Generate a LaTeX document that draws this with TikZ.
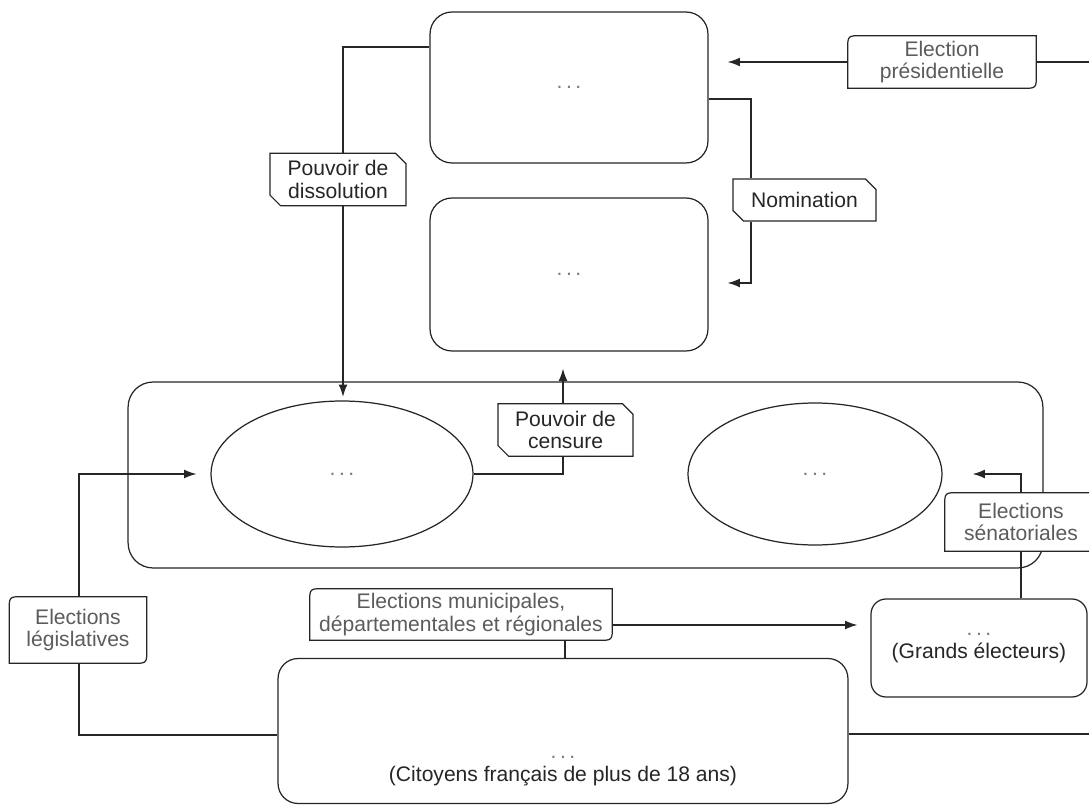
\documentclass[tikz,border=0pt]{standalone}
\usepackage{fontspec}
\setmainfont{Liberation Sans}
\usetikzlibrary{arrows.meta,shapes.geometric,shapes.misc}

\definecolor{linegray}{HTML}{262626}
\definecolor{textgray}{HTML}{5C5C5C}
\definecolor{dotgray}{HTML}{7A7A7A}

\newcommand{\emptytxt}{\textcolor{dotgray}{.\,.\,.}}

\tikzset{
	organ/.style	= {draw=linegray, line width=0.7pt, fill=white, rounded corners=#1},
	organ/.default	= 0.44cm,
	chamber/.style	= {ellipse, draw=linegray, line width=0.7pt, fill=white},
	power/.style	= {chamfered rectangle, chamfered rectangle corners={north east,south west},
			   chamfered rectangle sep=3pt, draw=linegray, line width=0.7pt, fill=white,
			   align=center, text=black!85, inner sep=1pt},
	elect/.style	= {align=center, text=textgray, inner sep=1pt,
			   append after command={\pgfextra{\let\elnode\tikzlastnode
				\filldraw[draw=linegray, fill=white, line width=0.7pt]
				([yshift=-8pt]\elnode.north west) .. controls (\elnode.north west) .. ([xshift=8pt]\elnode.north west)
				-- (\elnode.north east) -- ([yshift=8pt]\elnode.south east)
				.. controls (\elnode.south east) .. ([xshift=-8pt]\elnode.south east)
				-- (\elnode.south west) -- cycle;}}},
	conn/.style	= {draw=linegray, line width=0.7pt}
}

\begin{document}
\begin{tikzpicture}[x=0.02cm, y=-0.02cm, font=\fontsize{12}{13}\selectfont, >={Latex[length=7pt,width=5pt]}]
	\useasboundingbox (0,0) rectangle (1089,807);
	\clip (0,0) rectangle (1089,807);

	\node (pres)	at (569, 87.5)	[organ, minimum width=5.56cm, minimum height=3.02cm]	{\emptytxt};
	\node (gouv)	at (569, 274.5)	[organ, minimum width=5.56cm, minimum height=3.06cm]	{\emptytxt};
	\node (parl)	at (585.5, 475)	[organ=0.5cm, minimum width=18.3cm, minimum height=3.72cm]	{};
	\node (an)	at (342, 474)	[chamber, minimum width=5.24cm, minimum height=2.92cm]	{\emptytxt};
	\node (senat)	at (815, 474)	[chamber, minimum width=5.08cm, minimum height=2.84cm]	{\emptytxt};
	\node (citoyens) at (563, 731)	[organ=0.4cm, minimum width=11.4cm, minimum height=2.9cm,
		label={[align=center, text=black!85, yshift=-0.8cm]center:{\emptytxt\\(Citoyens français de plus de 18 ans)}}]	{};
	\node (ge)	at (979, 648)	[organ=0.3cm, minimum width=4.32cm, minimum height=1.96cm, align=center, text=black!85]	{\emptytxt\\(Grands électeurs)};

	\node (presid)	at (942, 62)	[elect, minimum width=3.76cm, minimum height=1.04cm]	{Election\\présidentielle};
	\node (dissol)	at (338, 179.5)	[power, minimum width=2.72cm, minimum height=0.98cm]	{Pouvoir de\\dissolution};
	\node (nomin)	at (804.5, 200)	[power, minimum width=2.86cm, minimum height=0.84cm]	{Nomination};
	\node (censure)	at (565.5, 430)	[power, minimum width=2.7cm, minimum height=1.0cm]	{Pouvoir de\\censure};
	\node (legis)	at (78, 630)	[elect, minimum width=2.74cm, minimum height=1.32cm]	{Elections\\législatives};
	\node (munic)	at (461, 614.5)	[elect, minimum width=6.04cm, minimum height=1.02cm]	{Elections municipales,\\départementales et régionales};
	\node (senatl)	at (1021, 522)	[elect, minimum width=3.04cm, minimum height=1.16cm]	{Elections\\sénatoriales};

	\draw[conn] (pres.west |- 0,47) -| (dissol.north -| 343,0);
	\draw[conn, ->, shorten >=2pt] (dissol.south -| 343,0) -- (an.north -| 343,0);
	\draw[conn] (pres.east |- 0,99) -| (nomin.north -| 751,0);
	\draw[conn, ->, shorten >=0.38cm] (nomin.south -| 751,0) |- (gouv.east |- 0,283);
	\draw[conn] (citoyens.east |- 0,734) -- (1110,734) |- (presid.east);
	\draw[conn, ->, shorten >=0.38cm] (presid.west) -- (pres.east |- presid.west);
	\draw[conn] (an.east) -| (censure.south -| 563,0);
	\draw[conn, ->, shorten >=0.34cm] (censure.north -| 563,0) -- (gouv.south -| 563,0);
	\draw[conn] (citoyens.west |- 0,735) -| (legis.south -| 79,0);
	\draw[conn, ->, shorten >=0.28cm] (legis.north -| 79,0) |- (an.west);
	\draw[conn] (munic.south -| 565,0) -- (citoyens.north -| 565,0);
	\draw[conn, ->, shorten >=0.26cm] (munic.east |- 0,625) -- (ge.west |- 0,625);
	\draw[conn] (ge.north -| 1021,0) -- (senatl.south -| 1021,0);
	\draw[conn, ->, shorten >=0.6cm] (senatl.north -| 1021,0) |- (senat.east);
\end{tikzpicture}
\end{document}
